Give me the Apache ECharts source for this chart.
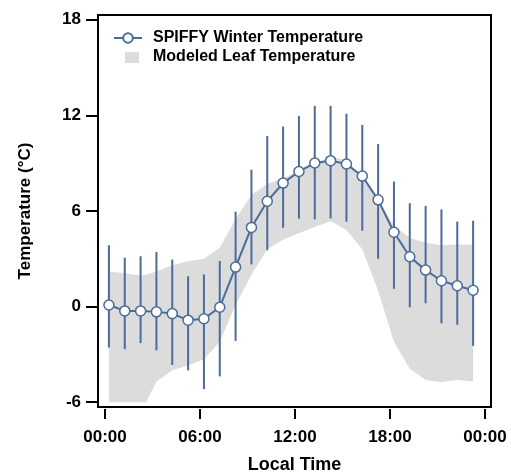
<!DOCTYPE html>
<html>
<head>
<meta charset="utf-8">
<script src="https://cdn.jsdelivr.net/npm/echarts@6/dist/echarts.min.js"></script>
<style>
  html, body { margin: 0; padding: 0; background: #fff; }
  #chart { width: 511px; height: 474px; }
</style>
</head>
<body>
<div id="chart"></div>
<script>
// hour of day for each SPIFFY point
const hours = [0.25, 1.25, 2.25, 3.25, 4.25, 5.25, 6.25, 7.25, 8.25, 9.25, 10.25, 11.25,
  12.25, 13.25, 14.25, 15.25, 16.25, 17.25, 18.25, 19.25, 20.25, 21.25, 22.25, 23.25];
const spiffyMean = [0.1, -0.27, -0.27, -0.33, -0.44, -0.85, -0.76, -0.04, 2.48, 4.97, 6.61, 7.75,
  8.48, 9.01, 9.16, 8.95, 8.19, 6.7, 4.67, 3.13, 2.29, 1.62, 1.31, 1.03];
const spiffyLow = [-2.57, -2.67, -2.29, -2.74, -3.66, -4.0, -5.18, -4.38, -2.15, 2.65, 3.54, 4.95,
  5.52, 5.48, 5.54, 5.33, 4.76, 3.0, 1.12, -0.04, 0.21, -1.05, -1.14, -2.46];
const spiffyHigh = [3.85, 3.07, 3.16, 3.43, 2.95, 1.9, 2.02, 2.86, 5.96, 8.59, 10.7, 11.3,
  11.96, 12.6, 12.6, 12.1, 11.4, 10.2, 7.85, 6.49, 6.32, 6.1, 5.33, 5.39];

// modeled leaf temperature envelope
const bandHours = [0.25, 1.25, 2.25, 2.6, 3.25, 4.25, 5.25, 6.25, 7.25, 8.25, 9.25, 10.25, 11.25,
  12.25, 13.25, 14.25, 15.25, 16.25, 17.25, 18.25, 19.25, 20.25, 21.25, 22.25, 23.25];
const bandLow = [-6.0, -6.0, -6.0, -6.0, -4.7, -4.0, -3.7, -3.3, -2.2, 0.1, 2.0, 3.6, 4.2,
  4.6, 5.0, 5.35, 4.8, 3.6, 1.0, -2.2, -3.9, -4.6, -4.75, -4.6, -4.7];
const bandHigh = [2.2, 2.1, 1.95, 2.0, 2.2, 2.6, 2.85, 3.0, 3.7, 5.5, 7.0, 7.7, 8.05,
  8.5, 9.0, 9.4, 9.2, 8.0, 6.7, 5.1, 4.3, 4.0, 3.85, 3.9, 3.9];

const xTicks = [0, 6, 12, 18, 24];
const yTicks = [-6, 0, 6, 12, 18];

const blue = '#4a6c99';
const font = 'Liberation Sans, Arial, sans-serif';

const chart = echarts.init(document.getElementById('chart'), null, { renderer: 'canvas' });

const option = {
  backgroundColor: '#fff',
  animation: false,
  grid: {
    left: 98, right: 20, top: 15, bottom: 67,
    outerBoundsMode: 'none', containLabel: false,
    show: true, borderColor: '#000', borderWidth: 2
  },
  legend: {
    orient: 'vertical',
    left: 113, top: 30, padding: 0,
    itemWidth: 28, itemHeight: 12, itemGap: 3,
    textStyle: { fontFamily: font, fontWeight: 'bold', fontSize: 16, color: '#000', padding: [0, 0, 0, 6] },
    data: [
      { name: 'SPIFFY Winter Temperature' },
      { name: 'Modeled Leaf Temperature', icon: 'path://M0,0M28,12M11,1h14v11h-14z' }
    ]
  },
  xAxis: {
    type: 'value', min: -0.44, max: 24.38, offset: 2,
    name: 'Local Time', nameLocation: 'middle', nameGap: 47,
    nameTextStyle: { fontFamily: font, fontWeight: 'bold', fontSize: 18, color: '#000' },
    axisLine: { show: false, onZero: false },
    axisTick: { show: true, length: 10, customValues: xTicks, lineStyle: { color: '#000', width: 2 } },
    axisLabel: {
      customValues: xTicks, margin: 20,
      fontFamily: font, fontWeight: 'bold', fontSize: 17, color: '#000',
      formatter: v => String(v % 24).padStart(2, '0') + ':00'
    },
    splitLine: { show: false }
  },
  yAxis: {
    type: 'value', min: -6.3, max: 18.3,
    name: 'Temperature (°C)', nameLocation: 'middle', nameGap: 64,
    nameTextStyle: { fontFamily: font, fontWeight: 'bold', fontSize: 17, color: '#000' },
    axisLine: { show: true, onZero: false, lineStyle: { color: '#000', width: 2 } },
    axisTick: { show: true, length: 12, customValues: yTicks, lineStyle: { color: '#000', width: 2 } },
    axisLabel: {
      customValues: yTicks, margin: 17,
      fontFamily: font, fontWeight: 'bold', fontSize: 17, color: '#000'
    },
    splitLine: { show: false }
  },
  series: [
    {
      name: 'Modeled Leaf Temperature',
      type: 'custom',
      itemStyle: { color: '#dcdcdc' },
      data: [[0]],
      z: 1,
      renderItem: function (params, api) {
        const pts = [];
        for (let i = 0; i < bandHours.length; i++) pts.push(api.coord([bandHours[i], bandHigh[i]]));
        for (let i = bandHours.length - 1; i >= 0; i--) pts.push(api.coord([bandHours[i], bandLow[i]]));
        return { type: 'polygon', shape: { points: pts }, style: { fill: '#dcdcdc' } };
      }
    },
    {
      name: 'errorbars',
      type: 'custom',
      z: 2,
      data: hours.map((h, i) => [h, spiffyLow[i], spiffyHigh[i]]),
      renderItem: function (params, api) {
        const a = api.coord([api.value(0), api.value(1)]);
        const b = api.coord([api.value(0), api.value(2)]);
        return {
          type: 'line',
          shape: { x1: a[0], y1: a[1], x2: b[0], y2: b[1] },
          style: { stroke: blue, lineWidth: 2 }
        };
      }
    },
    {
      name: 'SPIFFY Winter Temperature',
      type: 'line',
      z: 3,
      data: hours.map((h, i) => [h, spiffyMean[i]]),
      symbol: 'circle',
      symbolSize: 10,
      lineStyle: { color: blue, width: 2 },
      itemStyle: { color: '#fff', borderColor: blue, borderWidth: 1.5 }
    }
  ]
};

chart.setOption(option);
</script>
</body>
</html>
